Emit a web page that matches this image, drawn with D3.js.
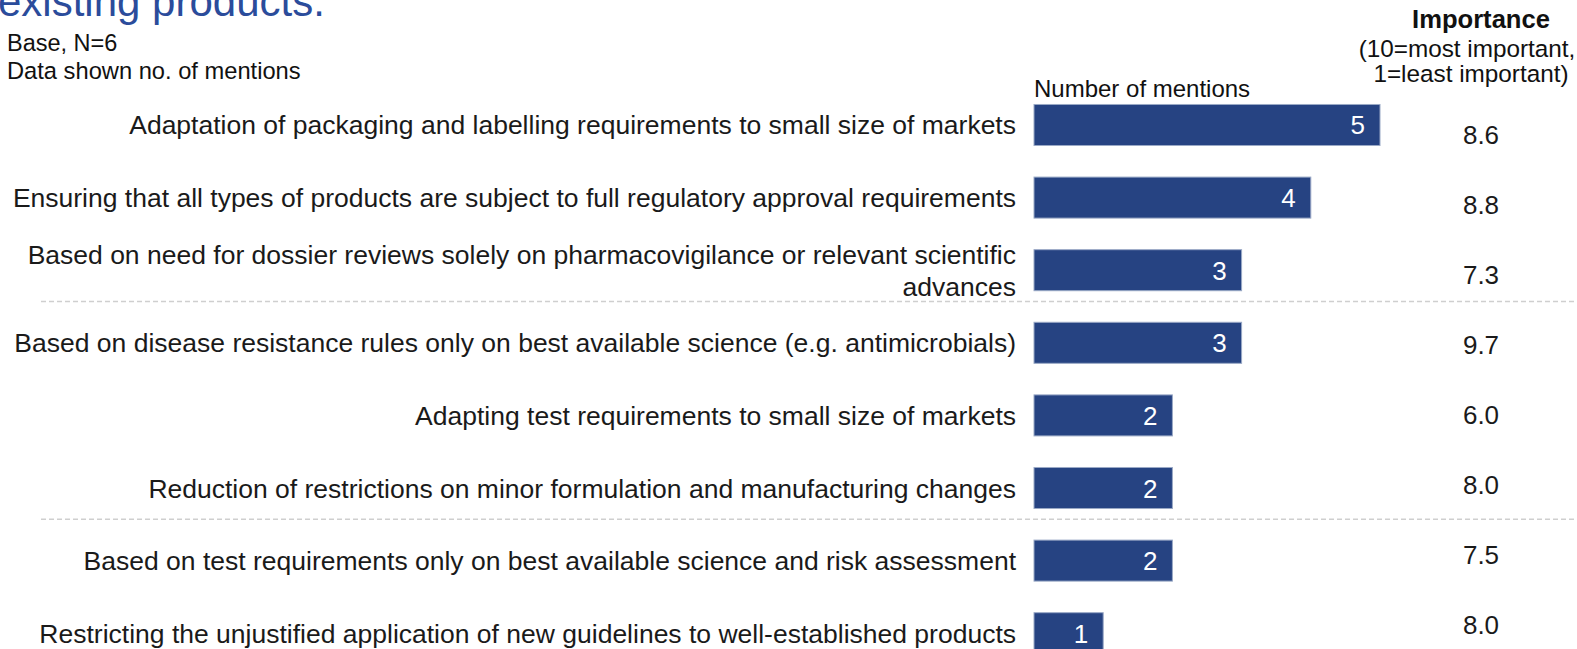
<!DOCTYPE html>
<html>
<head>
<meta charset="utf-8">
<script src="https://cdn.jsdelivr.net/npm/d3@7/dist/d3.min.js"></script>
<style>
  html, body { margin: 0; padding: 0; background: #fff; }
  svg { display: block; font-family: "Liberation Sans", Arial, sans-serif; }
</style>
</head>
<body>
<script>
const categories = [
  ["Adaptation of packaging and labelling requirements to small size of markets"],
  ["Ensuring that all types of products are subject to full regulatory approval requirements"],
  ["Based on need for dossier reviews solely on pharmacovigilance or relevant scientific", "advances"],
  ["Based on disease resistance rules only on best available science (e.g. antimicrobials)"],
  ["Adapting test requirements to small size of markets"],
  ["Reduction of restrictions on minor formulation and manufacturing changes"],
  ["Based on test requirements only on best available science and risk assessment"],
  ["Restricting the unjustified application of new guidelines to well-established products"]
];
const mentions = [5, 4, 3, 3, 2, 2, 2, 1];
const importance = [8.6, 8.8, 7.3, 9.7, 6.0, 8.0, 7.5, 8.0];
const separatorsAfter = [2, 5];
const xTicks = [0, 5];

const W = 1577, H = 649;
const svg = d3.select("body").append("svg").attr("width", W).attr("height", H);

const ids = categories.map((d, i) => i);
const x = d3.scaleLinear().domain(d3.extent(xTicks)).range([1034, 1380]);
const y = d3.scaleBand().domain(ids).range([72.9, 685.3]).padding(0.435);
const yImp = d3.scalePoint().domain(ids).range([134, 624]);

// Title (cut off at top, as in the original slide)
svg.append("text").attr("x", -2).attr("y", 16)
  .attr("font-size", 42).attr("fill", "#2B4C9B")
  .text("existing products.");

svg.append("text").attr("x", 7).attr("y", 51).attr("font-size", 23.5).attr("fill", "#111")
  .text("Base, N=6");
svg.append("text").attr("x", 7).attr("y", 79).attr("font-size", 23.7).attr("fill", "#111")
  .text("Data shown no. of mentions");

svg.append("text").attr("x", x(0)).attr("y", 97).attr("font-size", 24).attr("fill", "#111")
  .text("Number of mentions");

svg.append("text").attr("x", 1481).attr("y", 28).attr("font-size", 25.6).attr("font-weight", "bold")
  .attr("text-anchor", "middle").attr("fill", "#111").text("Importance");
svg.append("text").attr("x", 1467).attr("y", 57).attr("font-size", 24.3).attr("text-anchor", "middle")
  .attr("fill", "#111").text("(10=most important,");
svg.append("text").attr("x", 1471).attr("y", 82).attr("font-size", 24.3).attr("text-anchor", "middle")
  .attr("fill", "#111").text("1=least important)");

// Separators
const sepY = d => (y(d) + y.bandwidth() + y(d + 1)) / 2 - 5;
svg.selectAll("line.sep").data(separatorsAfter).join("line").attr("class", "sep")
  .attr("x1", 41).attr("x2", W)
  .attr("y1", sepY).attr("y2", sepY)
  .attr("stroke", "#cfcfcf").attr("stroke-width", 1.5).attr("stroke-dasharray", "5,3");

// Category labels
const lab = svg.selectAll("text.lab").data(ids).join("text").attr("class", "lab")
  .attr("text-anchor", "end").attr("font-size", 26.5).attr("fill", "#1a1a1a")
  .attr("y", d => y(d) + y.bandwidth() / 2);
lab.each(function(d) {
  const lines = categories[d];
  const t = d3.select(this);
  lines.forEach((ln, j) => {
    t.append("tspan").attr("x", 1016)
      .attr("dy", j === 0 ? (-(lines.length - 1) * 16 + 9.5) : 32)
      .text(ln);
  });
});

// Bars
svg.selectAll("rect.bar").data(ids).join("rect").attr("class", "bar")
  .attr("x", x(0)).attr("y", d => y(d))
  .attr("width", d => x(mentions[d]) - x(0)).attr("height", y.bandwidth())
  .attr("fill", "#264382").attr("stroke", "#9aa9c6").attr("stroke-width", 1);

// Value labels
svg.selectAll("text.val").data(ids).join("text").attr("class", "val")
  .attr("x", d => x(mentions[d]) - 15).attr("y", d => y(d) + y.bandwidth() / 2 + 9.5)
  .attr("text-anchor", "end").attr("font-size", 26).attr("fill", "#fff")
  .text(d => mentions[d]);

// Importance values
svg.selectAll("text.imp").data(ids).join("text").attr("class", "imp")
  .attr("x", 1481).attr("y", d => yImp(d) + 9.5)
  .attr("text-anchor", "middle").attr("font-size", 26).attr("fill", "#1a1a1a")
  .text(d => d3.format(".1f")(importance[d]));
</script>
</body>
</html>
